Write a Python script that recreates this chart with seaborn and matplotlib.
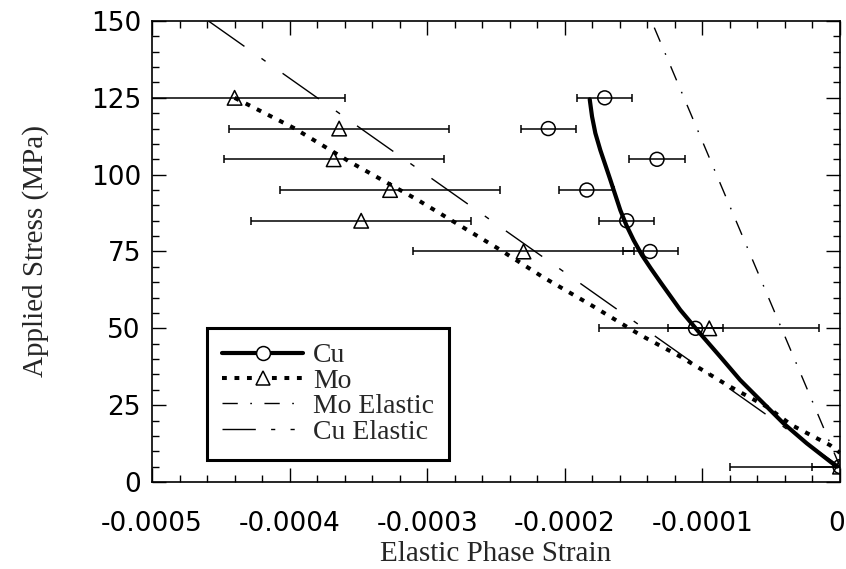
import matplotlib
matplotlib.use("Agg")
import matplotlib.pyplot as plt
from matplotlib.lines import Line2D
from matplotlib.ticker import MultipleLocator, FixedLocator, FixedFormatter
from matplotlib.transforms import ScaledTranslation
import seaborn as sns
import pandas as pd

# ---- data ----
stress_levels = [125, 115, 105, 95, 85, 75, 50, 5]
cu_strain = [-0.000171, -0.000212, -0.000133, -0.000184, -0.000155, -0.000138, -0.000105, 0.0]
cu_err = [0.00002] * 8
mo_strain = [-0.000440, -0.000364, -0.000368, -0.000327, -0.000348, -0.000230, -0.000095, 0.0]
mo_err = [0.00008] * 8

cu_fit_stress = [124.5, 118.9, 113.5, 108.0, 103.1, 98.3, 93.4, 88.5, 83.6, 78.7, 73.8,
                 69.5, 64.7, 56.0, 48.9, 40.8, 33.2, 26.7, 19.1, 12.6, 5.0]
cu_fit_strain = [-0.0001819, -0.0001802, -0.0001778, -0.0001742, -0.0001705, -0.0001669,
                 -0.0001633, -0.0001597, -0.0001553, -0.0001500, -0.0001439, -0.0001375,
                 -0.0001300, -0.0001161, -0.0001028, -0.0000871, -0.0000726, -0.0000581,
                 -0.0000411, -0.0000242, -0.0000024]

mo_fit_stress = [125, 115.2, 104.1, 91.8, 76.1, 66.7, 57.6, 47.8, 40.8, 31.6, 24.5, 18.5, 12.0, 9.5]
mo_fit_strain = [-0.000440, -0.000397, -0.000356, -0.000307, -0.000249, -0.000216, -0.000181,
                 -0.000145, -0.000116, -0.0000822, -0.0000532, -0.0000351, -0.0000073, 0.0]

mo_el_strain = [0.0, -0.000137]
mo_el_stress = [5, 150]
cu_el_strain = [0.0, -0.000459]
cu_el_stress = [5, 150]

x_ticks = [-0.0005, -0.0004, -0.0003, -0.0002, -0.0001, 0.0]
x_tick_labels = ["-0.0005", "-0.0004", "-0.0003", "-0.0002", "-0.0001", "0"]
y_ticks = [0, 25, 50, 75, 100, 125, 150]

sns.set_theme(style="ticks")
plt.rcParams["font.family"] = ["DejaVu Sans"]
serif = ["Liberation Serif", "DejaVu Serif"]

fig = plt.figure(figsize=(8.46, 5.69), dpi=100)
ax = fig.add_axes([0.1797, 0.1529, 0.8132, 0.8102])

pts = pd.DataFrame({"stress": stress_levels, "cu": cu_strain, "mo": mo_strain})
cu_fit = pd.DataFrame({"strain": cu_fit_strain, "stress": cu_fit_stress})
mo_fit = pd.DataFrame({"strain": mo_fit_strain, "stress": mo_fit_stress})
mo_el = pd.DataFrame({"strain": mo_el_strain, "stress": mo_el_stress})
cu_el = pd.DataFrame({"strain": cu_el_strain, "stress": cu_el_stress})

mo_el_ls = (0, (11, 9, 1.2, 9))
cu_el_ls = (0, (32, 15, 3.6, 15))
mo_ls = (0, (1.2, 1.9))

# elastic lines
sns.lineplot(data=mo_el, x="strain", y="stress", sort=False, ax=ax, color="black",
             lw=1.0, linestyle=mo_el_ls, legend=False)
sns.lineplot(data=cu_el, x="strain", y="stress", sort=False, ax=ax, color="black",
             lw=1.0, linestyle=cu_el_ls, legend=False)

# error bars
ax.errorbar(cu_strain, stress_levels, xerr=cu_err, fmt="none", ecolor="black",
            elinewidth=1.1, capsize=3, capthick=1.1, zorder=3)
ax.errorbar(mo_strain, stress_levels, xerr=mo_err, fmt="none", ecolor="black",
            elinewidth=1.1, capsize=3, capthick=1.1, zorder=3)

# fitted curves
sns.lineplot(data=cu_fit, x="strain", y="stress", sort=False, ax=ax, color="black",
             lw=3.0, legend=False, zorder=4)
sns.lineplot(data=mo_fit, x="strain", y="stress", sort=False, ax=ax, color="black",
             lw=2.9, linestyle=mo_ls, legend=False, zorder=4)

# markers
sns.scatterplot(data=pts, x="cu", y="stress", ax=ax, marker="o", s=100,
                facecolor="none", edgecolor="black", linewidth=1.1, zorder=5)
sns.scatterplot(data=pts, x="mo", y="stress", ax=ax, marker="^", s=110,
                facecolor="none", edgecolor="black", linewidth=1.1, zorder=5)

ax.set_xlim(-0.0005, 0.0)
ax.set_ylim(0, 150)
ax.xaxis.set_major_locator(FixedLocator(x_ticks))
ax.xaxis.set_major_formatter(FixedFormatter(x_tick_labels))
ax.xaxis.set_minor_locator(MultipleLocator(0.00002))
ax.yaxis.set_major_locator(FixedLocator(y_ticks))
ax.yaxis.set_minor_locator(MultipleLocator(5))

for s in ax.spines.values():
    s.set_visible(True)
    s.set_linewidth(1.2)
    s.set_color("black")

ax.tick_params(which="both", direction="in", top=True, right=True, colors="black", width=1.0)
ax.tick_params(which="major", length=10)
ax.tick_params(which="minor", length=5)
ax.tick_params(axis="x", which="major", labelsize=19, pad=21)
ax.tick_params(axis="y", which="major", labelsize=19, pad=8)

ax.set_xlabel("Elastic Phase Strain", fontsize=21, family=serif, labelpad=3)
ax.set_ylabel("Applied Stress (MPa)", fontsize=21, family=serif, labelpad=30)

handles = [
    Line2D([], [], color="black", lw=3.0, marker="o", ms=10, mfc="white", mec="black", mew=1.1),
    Line2D([], [], color="black", lw=2.9, linestyle=mo_ls, marker="^", ms=10, mfc="white",
           mec="black", mew=1.1),
    Line2D([], [], color="black", lw=1.0, linestyle=mo_el_ls),
    Line2D([], [], color="black", lw=1.0, linestyle=(0, (24, 11, 3, 11, 3, 20))),
]
leg = ax.legend(handles, ["Cu", "Mo", "Mo Elastic", "Cu Elastic"],
                loc="lower left", bbox_to_anchor=(0.08, 0.048), borderaxespad=0,
                prop={"family": serif, "size": 20}, frameon=True, fancybox=False,
                framealpha=1, edgecolor="black", labelspacing=0.0, handlelength=2.9,
                handletextpad=0.36, borderpad=0.55)
leg.get_frame().set_linewidth(2.2)

# nudge the last x tick label ("0") slightly left so it stays inside the figure
fig.canvas.draw()
last = ax.xaxis.get_major_ticks()[-1].label1
last.set_transform(last.get_transform() + ScaledTranslation(-0.035, 0, fig.dpi_scale_trans))

fig.savefig("out.png", dpi=100)
